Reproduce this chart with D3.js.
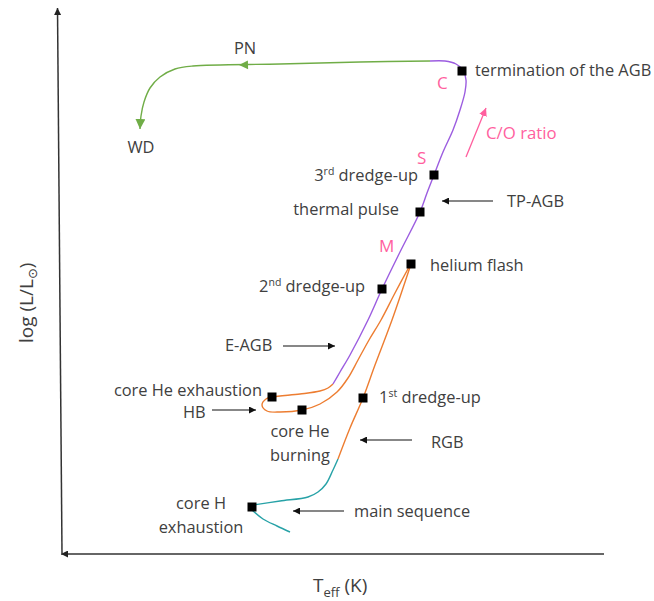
<!DOCTYPE html>
<html>
<head>
<meta charset="utf-8">
<script src="https://cdn.jsdelivr.net/npm/d3@7/dist/d3.min.js"></script>
<style>
body { margin: 0; background: #fff; }
text { font-family: "Open Sans", sans-serif; fill: #404040; }
</style>
</head>
<body>
<div id="graphic"></div>
<script>
// evolutionary track of a low-mass star, arbitrary units (Teff offset, log L offset)
var msLower = [[228, 21], [215, 27], [201, 34], [190, 43]];
var msUpper = [[191, 48], [218, 52], [246, 56], [256, 61], [264, 69], [271, 83], [276, 94]];
var rgb = [[276, 94], [288, 125], [301, 155], [313, 188], [330, 233], [349, 289]];
var hb = [[347, 286], [333, 260], [319, 233], [307, 213], [296, 193], [286, 175], [275, 161], [258, 149],
  [240, 143], [218, 141], [205, 142], [200, 148], [204, 154], [210, 156], [238, 159], [258, 162], [266, 165], [271, 169]];
var agb = [[271, 169], [278, 181], [288, 198], [306, 233], [320, 264], [338, 301], [358, 341], [365, 360],
  [372, 378], [381, 401], [391, 423], [398, 443], [403, 461], [404, 473], [401, 483], [394, 489], [383, 492], [368, 492]];
var postAgb = [[368, 492], [298, 491], [218, 489], [131, 487], [113, 484], [98, 476], [88, 465], [82, 451], [79, 437], [78, 424]];

// marked stages
var stageNames = ["termination of the AGB", "3rd dredge-up", "thermal pulse", "helium flash", "2nd dredge-up",
  "core He exhaustion", "core He burning", "1st dredge-up", "core H exhaustion"];
var stageT = [400, 372, 358, 349, 320, 210, 240, 301, 190];
var stageL = [482, 378, 341, 289, 264, 156, 143, 155, 46];

// phase pointers
var pointerNames = ["TP-AGB", "E-AGB", "HB", "RGB", "main sequence"];
var pointerFrom = [[431, 352], [221, 207], [150, 143], [350, 113], [282, 42]];
var pointerTo = [[380, 352], [273, 207], [194, 143], [298, 113], [231, 42]];
var pointerText = [[445, 346], [163, 202], [121, 135], [369, 105], [292, 36]];

// spectral type letters
var typeNames = ["C", "S", "M"];
var typePos = [[375, 464], [355, 389], [317, 301]];

var graphic = new Object;

graphic.create = function() {
  var width = 654, height = 601, fs = 16.4;
  var svg = d3.select("#graphic").append("svg").attr("width", width).attr("height", height);
  var x = d3.scaleLinear().domain([0, 540]).range([62, 602]);
  var y = d3.scaleLinear().domain([0, 545]).range([553, 8]);

  var defs = svg.append("defs");
  function marker(id, color, w, h) {
    defs.append("marker").attr("id", id).attr("markerUnits", "userSpaceOnUse")
      .attr("viewBox", "0 0 10 10").attr("refX", 10).attr("refY", 5)
      .attr("markerWidth", w).attr("markerHeight", h).attr("orient", "auto-start-reverse")
      .append("path").attr("d", "M0,0L10,5L0,10z").attr("fill", color);
  }
  marker("axisHead", "#222", 8, 7);
  marker("blackHead", "#111", 8, 7);
  marker("greenHead", "#70ad47", 10, 10);
  marker("pinkHead", "#ff5f9e", 8, 8);

  // axes
  svg.append("line").attr("x1", x(0)).attr("y1", y(0)).attr("x2", x(-4.5)).attr("y2", y(545))
    .attr("stroke", "#333").attr("stroke-width", 1.5).attr("marker-end", "url(#axisHead)");
  svg.append("line").attr("x1", x(542)).attr("y1", y(-1)).attr("x2", x(-1)).attr("y2", y(-1))
    .attr("stroke", "#333").attr("stroke-width", 1.5).attr("marker-end", "url(#axisHead)");

  var line = d3.line().x(function(d) { return x(d[0]); }).y(function(d) { return y(d[1]); })
    .curve(d3.curveCatmullRom.alpha(0.5));

  var tracks = [
    {pts: msLower, color: "#27a2a7"},
    {pts: msUpper, color: "#27a2a7"},
    {pts: rgb, color: "#ed7d31"},
    {pts: hb, color: "#ed7d31"},
    {pts: agb, color: "#9c5de0"},
    {pts: postAgb, color: "#70ad47", head: "url(#greenHead)"}
  ];
  svg.selectAll("path.track").data(tracks).enter().append("path").attr("class", "track")
    .attr("d", function(d) { return line(d.pts); })
    .attr("fill", "none").attr("stroke", function(d) { return d.color; })
    .attr("stroke-width", 1.4)
    .attr("marker-end", function(d) { return d.head || null; });

  // arrowhead halfway along the PN branch
  var a = postAgb[1], b = postAgb[2];
  var ang = Math.atan2(y(b[1]) - y(a[1]), x(b[0]) - x(a[0])) * 180 / Math.PI;
  svg.append("path").attr("d", "M4,0L-5,-4.5L-5,4.5z").attr("fill", "#70ad47")
    .attr("transform", "translate(" + x(181) + "," + y(488) + ") rotate(" + ang + ")");

  // pointers
  pointerNames.forEach(function(n, i) {
    svg.append("line").attr("x1", x(pointerFrom[i][0])).attr("y1", y(pointerFrom[i][1]))
      .attr("x2", x(pointerTo[i][0])).attr("y2", y(pointerTo[i][1]))
      .attr("stroke", "#111").attr("stroke-width", 1.2).attr("marker-end", "url(#blackHead)");
    svg.append("text").attr("x", x(pointerText[i][0])).attr("y", y(pointerText[i][1]))
      .attr("font-size", fs).text(n);
  });

  // C/O ratio arrow
  svg.append("line").attr("x1", x(404)).attr("y1", y(396)).attr("x2", x(424)).attr("y2", y(445))
    .attr("stroke", "#ff5f9e").attr("stroke-width", 1.3).attr("marker-end", "url(#pinkHead)");
  svg.append("text").attr("x", x(424)).attr("y", y(414)).attr("font-size", 16.8)
    .style("fill", "#ff5f9e").text("C/O ratio");
  typeNames.forEach(function(n, i) {
    svg.append("text").attr("x", x(typePos[i][0])).attr("y", y(typePos[i][1])).attr("font-size", 17)
      .style("fill", "#ff5f9e").text(n);
  });

  // PN / WD
  svg.append("text").attr("x", x(183)).attr("y", y(499)).attr("text-anchor", "middle").attr("font-size", fs).text("PN");
  svg.append("text").attr("x", x(79)).attr("y", y(400)).attr("text-anchor", "middle").attr("font-size", fs).text("WD");

  // stage markers
  var stages = stageNames.map(function(n, i) { return {name: n, t: stageT[i], l: stageL[i]}; });
  svg.selectAll("rect.stage").data(stages).enter().append("rect").attr("class", "stage")
    .attr("x", function(d) { return x(d.t) - 4.5; }).attr("y", function(d) { return y(d.l) - 4.5; })
    .attr("width", 9).attr("height", 9).attr("fill", "#000");

  // stage labels: [dx, dy, anchor, lines]
  var layout = {
    "termination of the AGB": [13, 5, "start"],
    "3rd dredge-up": [-16, 6, "end"],
    "thermal pulse": [-21, 3, "end"],
    "helium flash": [19, 7, "start"],
    "2nd dredge-up": [-17, 3, "end"],
    "core He exhaustion": [-10, -1, "end"],
    "core He burning": [-2, 27, "middle", ["core He", "burning"]],
    "1st dredge-up": [16, 5, "start"],
    "core H exhaustion": [-51, 2, "middle", ["core H", "exhaustion"]]
  };
  stages.forEach(function(d) {
    var o = layout[d.name];
    var t = svg.append("text").attr("x", x(d.t) + o[0]).attr("y", y(d.l) + o[1])
      .attr("text-anchor", o[2]).attr("font-size", fs);
    var m = d.name.match(/^(\d)(st|nd|rd)(.*)$/);
    if (o[3]) {
      o[3].forEach(function(s, k) {
        t.append("tspan").attr("x", x(d.t) + o[0]).attr("dy", k ? 24 : 0).text(s);
      });
    } else if (m) {
      t.append("tspan").text(m[1]);
      t.append("tspan").attr("dy", -6).attr("font-size", 10.5).text(m[2]);
      t.append("tspan").attr("dy", 6).text(m[3]);
    } else {
      t.text(d.name);
    }
  });

  // axis titles
  var xt = svg.append("text").attr("x", 313).attr("y", 592).attr("font-size", 19);
  xt.append("tspan").text("T");
  xt.append("tspan").attr("dy", 5).attr("font-size", 13).text("eff");
  xt.append("tspan").attr("dy", -5).text(" (K)");

  var yt = svg.append("text").attr("transform", "translate(33,343) rotate(-90)").attr("font-size", 19);
  yt.append("tspan").text("log (L/L");
  yt.append("tspan").attr("dy", 4).attr("font-size", 13).style("font-family", "DejaVu Sans").text("\u2299");
  yt.append("tspan").attr("dy", -4).text(")");
};

graphic.create();
</script>
</body>
</html>
